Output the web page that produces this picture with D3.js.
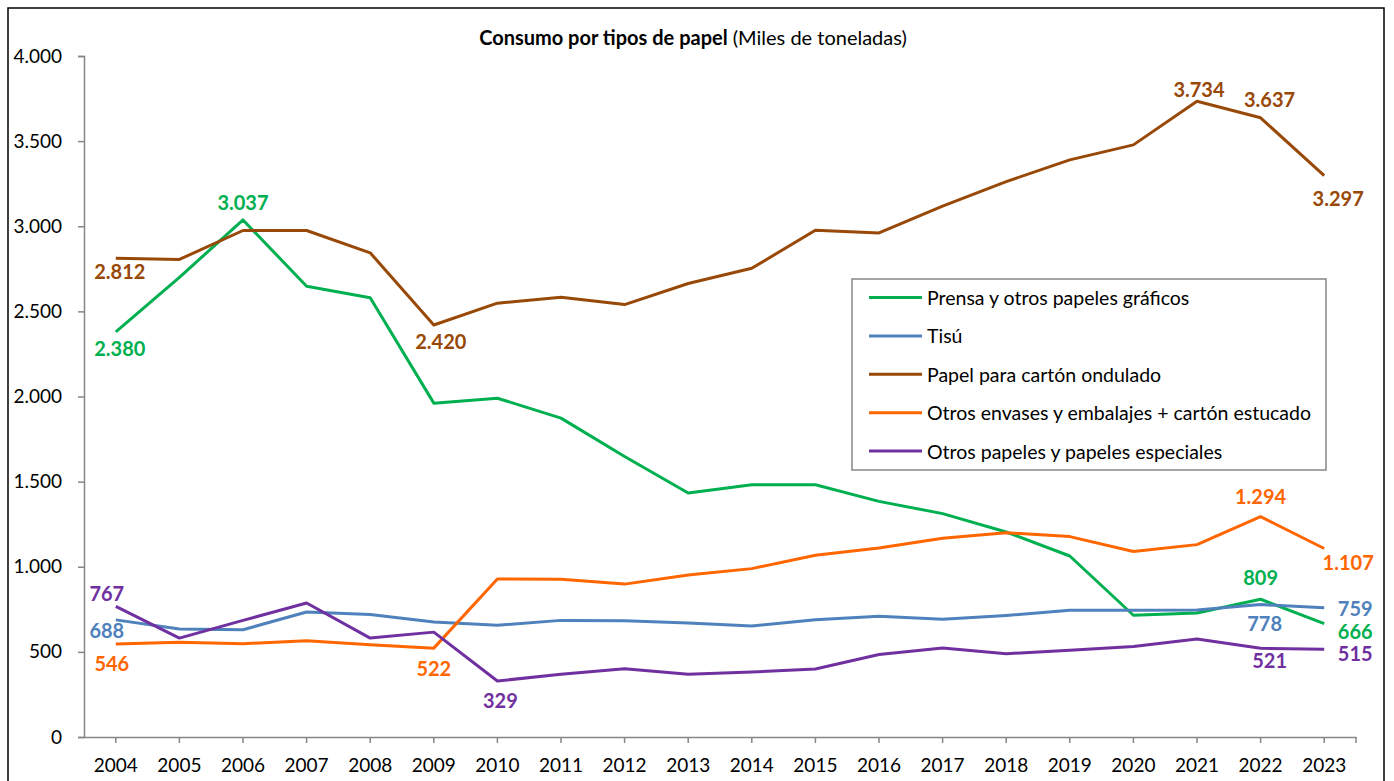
<!DOCTYPE html>
<html><head><meta charset="utf-8">
<script src="https://cdn.jsdelivr.net/npm/d3@7"></script>
<style>
html,body{margin:0;padding:0;background:#fff;}
svg{display:block;font-family:Lato,"Open Sans",sans-serif;}
</style></head>
<body>
<svg id="chart" width="1394" height="781"></svg>
<script>
const years = ["2004","2005","2006","2007","2008","2009","2010","2011","2012","2013","2014","2015","2016","2017","2018","2019","2020","2021","2022","2023"];
const prensa = [2380,2700,3037,2648,2580,1961,1990,1873,1648,1433,1482,1482,1384,1312,1204,1063,715,728,809,666];
const tisu = [688,634,630,734,719,675,656,685,683,669,652,689,709,691,714,744,744,746,778,759];
const carton = [2812,2805,2975,2975,2844,2420,2548,2583,2540,2664,2753,2977,2961,3118,3262,3390,3478,3734,3637,3297];
const otrosEnvases = [546,556,548,566,542,522,928,926,898,952,989,1067,1110,1168,1200,1177,1090,1130,1294,1107];
const otrosPapeles = [767,581,685,787,581,616,329,368,401,368,382,399,485,523,489,509,532,575,521,515];
const seriesNames = ["Prensa y otros papeles gráficos","Tisú","Papel para cartón ondulado","Otros envases y embalajes + cartón estucado","Otros papeles y papeles especiales"];
const yTicks = [0,500,1000,1500,2000,2500,3000,3500,4000];
const colors = ["#00B050","#4F81BD","#984807","#FF6600","#7030A0"];
// labelled points: [series index, year index, label shift x, label shift y]
const labels = [
  [0,0,4,16],[0,2,0,-18],[0,18,0,-22],[0,19,31,7],
  [1,0,-9,10],[1,18,4,18],[1,19,31,0],
  [2,0,4,13],[2,5,7,16],[2,17,2,-12],[2,18,9,-19],[2,19,14,22],
  [3,0,-4,19],[3,5,0,20],[3,18,0,-21],[3,19,24,13],
  [4,0,-9,-13],[4,6,3,19],[4,18,9,12],[4,19,31,4]
];
const allSeries = [prensa,tisu,carton,otrosEnvases,otrosPapeles];

const svg = d3.select("#chart");
const fmt = v => d3.format(",")(v).replace(/,/g,".");

// outer border
svg.append("rect").attr("x",8).attr("y",8).attr("width",1376).attr("height",790)
  .attr("fill","none").attr("stroke","#000").attr("stroke-width",1.5);

const m = {left:84, right:1356, top:56, bottom:737};
const x = d3.scaleBand().domain(years).range([m.left,m.right]);
const xc = d => x(d) + x.bandwidth()/2;
const y = d3.scaleLinear().domain([0,4000]).range([m.bottom,m.top]);

// y axis
const yAxis = svg.append("g").attr("transform",`translate(${m.left},0)`)
  .call(d3.axisLeft(y).tickValues(yTicks).tickSize(6).tickPadding(16).tickFormat(fmt));
yAxis.select(".domain").attr("stroke","#868686").attr("stroke-width",1.5);
yAxis.selectAll(".tick line").attr("stroke","#868686").attr("stroke-width",1.5);
yAxis.selectAll(".tick text").attr("font-size",19).attr("fill","#000").attr("font-family","Lato, sans-serif");

// x axis
const xAxis = svg.append("g").attr("transform",`translate(0,${m.bottom})`)
  .call(d3.axisBottom(x).tickSize(6).tickSizeOuter(0).tickPadding(16));
xAxis.select(".domain").attr("stroke","#868686").attr("stroke-width",1.5);
xAxis.selectAll(".tick line").attr("stroke","#868686").attr("stroke-width",1.5);
xAxis.selectAll(".tick text").attr("font-size",19).attr("fill","#000").attr("font-family","Lato, sans-serif");
xAxis.append("line").attr("x1",m.right).attr("x2",m.right).attr("y1",0).attr("y2",6)
  .attr("stroke","#868686").attr("stroke-width",1.5);

// lines
const line = d3.line().x((d,i)=>xc(years[i])).y(d=>y(d));
allSeries.forEach((s,k)=>{
  svg.append("path").datum(s).attr("d",line).attr("fill","none")
    .attr("stroke",colors[k]).attr("stroke-width",3).attr("stroke-linejoin","round");
});

// data labels
labels.forEach(([k,i,dx,dy])=>{
  svg.append("text").attr("x",xc(years[i])+dx).attr("y",y(allSeries[k][i])+dy)
    .attr("text-anchor","middle").attr("dominant-baseline","central")
    .attr("font-size",20).attr("font-weight","bold")
    .attr("fill",colors[k]).text(fmt(allSeries[k][i]));
});

// title
const t = svg.append("text").attr("x",693).attr("y",45).attr("text-anchor","middle")
  .attr("font-size",20).attr("fill","#000");
t.append("tspan").attr("font-weight","bold").text("Consumo por tipos de papel");
t.append("tspan").text(" (Miles de toneladas)");

// legend
const lg = svg.append("g");
lg.append("rect").attr("x",852).attr("y",279).attr("width",474).attr("height",191)
  .attr("fill","#fff").attr("stroke","#868686").attr("stroke-width",1.5);
seriesNames.forEach((n,k)=>{
  const yy = 297.5 + k*38.4;
  lg.append("line").attr("x1",869).attr("x2",922).attr("y1",yy).attr("y2",yy)
    .attr("stroke",colors[k]).attr("stroke-width",3);
  lg.append("text").attr("x",927).attr("y",yy).attr("dominant-baseline","central")
    .attr("font-size",19.5).attr("fill","#000").text(n);
});
</script>
</body></html>
